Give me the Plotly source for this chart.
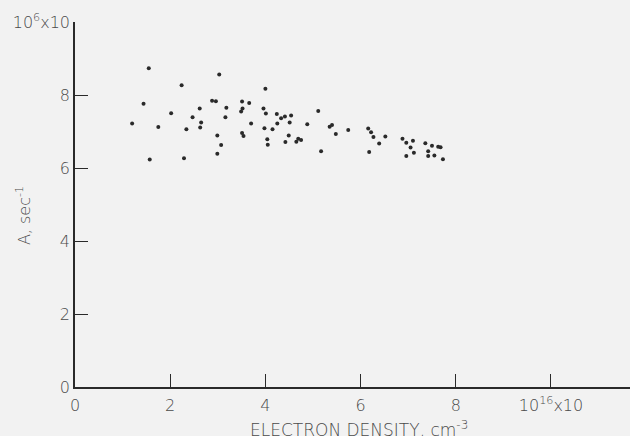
import plotly.graph_objects as go

# Electron density (units of 10^16 cm^-3) and transition probability A (units of 10^6 sec^-1)
density = [1.55, 3.03, 2.24, 4.00, 1.44, 2.88, 2.96, 3.51, 3.66, 3.18,
           2.62, 3.52, 3.96, 3.49, 2.02, 4.01, 4.24, 2.47, 3.16, 1.20,
           2.65, 3.70, 4.25, 1.75, 2.63, 2.34, 3.98, 4.15, 3.51, 3.54,
           2.99, 4.04, 3.07, 4.05, 2.99, 1.57, 2.29, 4.33, 4.41, 4.54,
           4.51, 4.42, 4.49, 4.69, 4.65, 4.75, 4.88, 5.11, 5.17, 5.35,
           5.40, 5.48, 5.74, 6.16, 6.22, 6.27, 6.18, 6.39, 6.52, 6.88,
           6.96, 7.10, 7.05, 7.12, 6.96, 7.36, 7.50, 7.63, 7.68, 7.42,
           7.42, 7.55, 7.73]
rate = [8.73, 8.56, 8.27, 8.17, 7.76, 7.84, 7.83, 7.82, 7.78, 7.65,
        7.63, 7.63, 7.63, 7.55, 7.50, 7.49, 7.48, 7.39, 7.39, 7.22,
        7.25, 7.22, 7.22, 7.12, 7.11, 7.06, 7.09, 7.06, 6.96, 6.88,
        6.89, 6.79, 6.63, 6.64, 6.39, 6.23, 6.27, 7.36, 7.41, 7.44,
        7.25, 6.71, 6.89, 6.80, 6.72, 6.77, 7.20, 7.56, 6.46, 7.13,
        7.18, 6.93, 7.04, 7.08, 6.98, 6.85, 6.44, 6.67, 6.86, 6.80,
        6.69, 6.75, 6.56, 6.42, 6.33, 6.68, 6.61, 6.58, 6.57, 6.46,
        6.33, 6.34, 6.24]

x_ticks = [0, 2, 4, 6, 8, 10]
x_tick_text = ["0", "2", "4", "6", "8", "10<sup>16</sup>x10"]
y_ticks = [0, 2, 4, 6, 8, 10]
y_tick_text = ["0", "2", "4", "6", "8", "10<sup>6</sup>x10"]

ink = "#2a2a2a"
text_col = "#4a4a4a"
paper = "#f2f2f2"
font_family = "DejaVu Sans, sans-serif"
label_font = dict(family=font_family, size=16, color=text_col, weight=200)
title_font = dict(family=font_family, size=17, color=text_col, weight=200)

fig = go.Figure()
fig.add_trace(go.Scatter(
    x=density, y=rate, mode="markers",
    marker=dict(size=4, color=ink, line=dict(width=0)),
    hoverinfo="skip", showlegend=False,
))

axis_common = dict(
    showgrid=False, zeroline=False, showline=True,
    linecolor=ink, linewidth=1.5,
    ticks="inside", ticklen=13, tickwidth=1.2, tickcolor=ink,
    tickfont=label_font,
)

fig.update_layout(
    width=630, height=436,
    margin=dict(l=75, r=0, t=22, b=49),
    paper_bgcolor=paper, plot_bgcolor=paper,
    xaxis=dict(range=[0, 11.66], tickvals=x_ticks, ticktext=x_tick_text,
               ticklabelstandoff=3, **axis_common),
    yaxis=dict(range=[0, 10], tickvals=y_ticks, ticktext=y_tick_text,
               ticklabelstandoff=0, **axis_common),
    annotations=[
        dict(text="ELECTRON DENSITY, cm<sup>-3</sup>", xref="paper", yref="paper",
             x=0.512, y=-0.079, xanchor="center", yanchor="top", showarrow=False,
             font=title_font),
        dict(text="A, sec<sup>-1</sup>", xref="paper", yref="paper",
             x=-0.07, y=0.47, xanchor="right", yanchor="middle", showarrow=False,
             textangle=-90, font=label_font),
    ],
)

fig.write_html("out.html")
